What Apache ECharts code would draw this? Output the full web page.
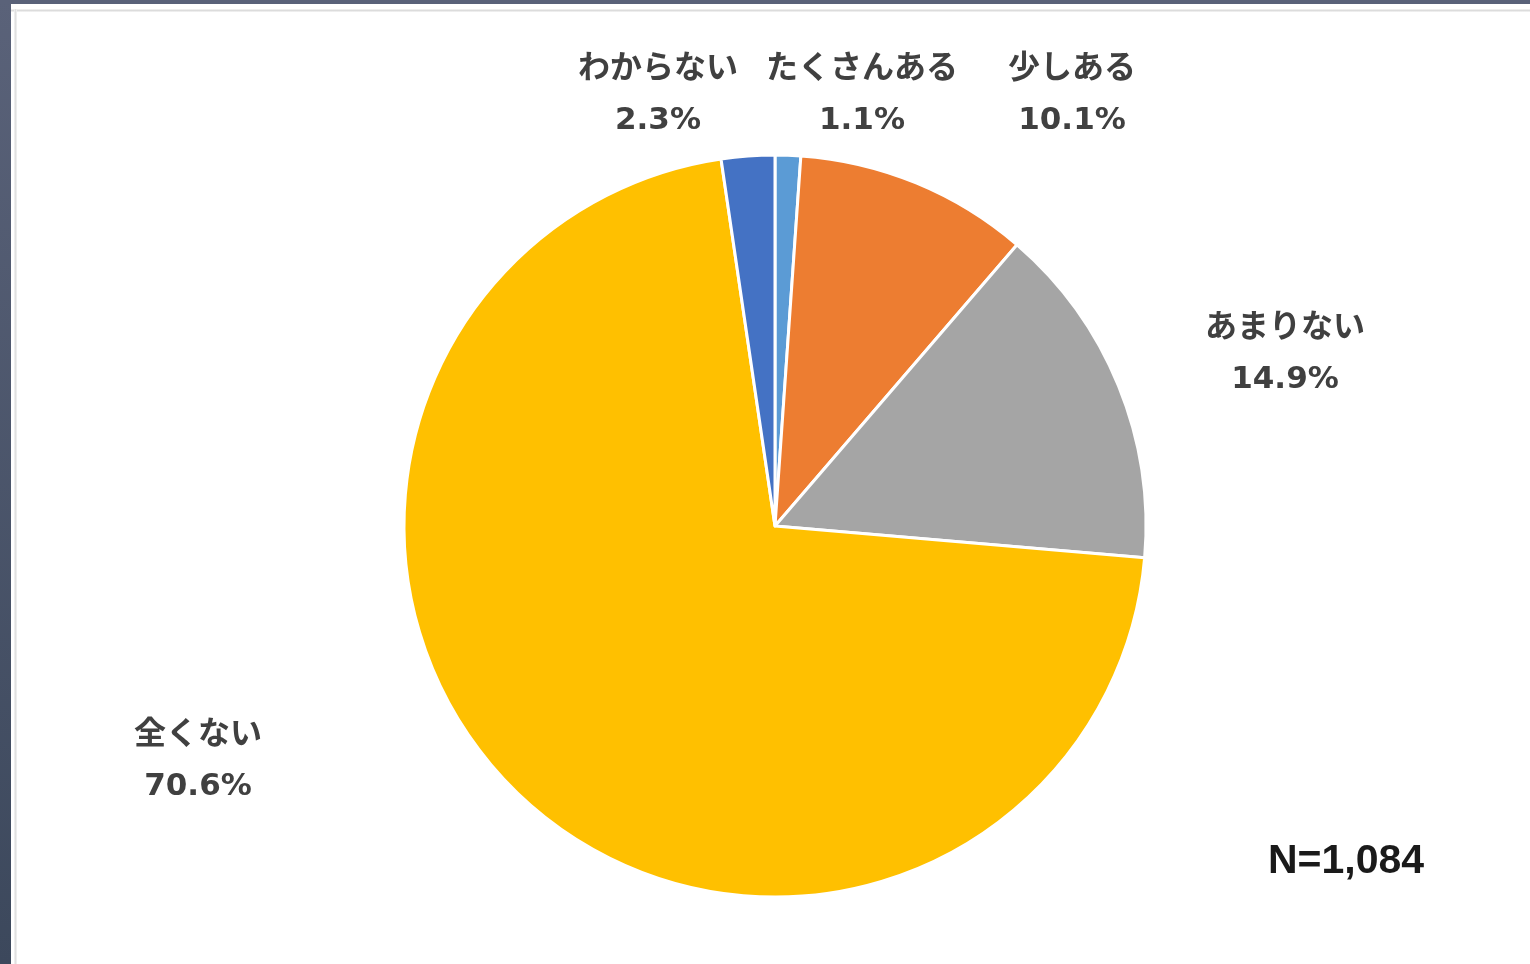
<!DOCTYPE html>
<html>
<head>
<meta charset="utf-8">
<script src="https://cdn.jsdelivr.net/npm/echarts@6/dist/echarts.min.js"></script>
<style>
  html, body { margin: 0; padding: 0; background: #ffffff; }
  #wrap { position: relative; width: 1530px; height: 964px; overflow: hidden; background: #ffffff; }
  #chart { position: absolute; left: 0; top: 0; width: 1530px; height: 964px; }
  #leftbar { position: absolute; left: 0; top: 0; width: 11px; height: 964px; background: linear-gradient(#5a6279, #3c485c); }
  #topbar { position: absolute; left: 0; top: 0; width: 1530px; height: 4px; background: #5a6279; }
  #hline { position: absolute; left: 11px; top: 9px; width: 1519px; height: 3px; background: linear-gradient(#f6f6f6, #dcdcdc, #f6f6f6); }
  #vline { position: absolute; left: 14px; top: 9px; width: 3px; height: 955px; background: linear-gradient(90deg, #f4f4f4, #e0e0e0, #f4f4f4); }
</style>
</head>
<body>
<div id="wrap">
  <div id="chart"></div>
  <div id="hline"></div>
  <div id="vline"></div>
  <div id="leftbar"></div>
  <div id="topbar"></div>
</div>
<script>
// Data (clockwise from 12 o'clock)
var categories = ['たくさんある', '少しある', 'あまりない', '全くない', 'わからない'];
var values = [1.1, 10.1, 14.9, 70.6, 2.3];
var sampleNote = 'N=1,084';

// Styling / layout (kept separate from data)
var colors = ['#5B9BD5', '#ED7D31', '#A5A5A5', '#FFC000', '#4472C4'];
var labelPos = [[862, 93], [1072, 93], [1285, 352], [198, 759], [658, 93]];

var chart = echarts.init(document.getElementById('chart'), null, { renderer: 'canvas' });

var seriesData = categories.map(function (c, i) {
  return { name: c, value: values[i], itemStyle: { color: colors[i] } };
});

chart.setOption({
  animation: false,
  backgroundColor: 'transparent',
  series: [{
    type: 'pie',
    center: [775, 526],
    radius: [0, 371],
    startAngle: 90,
    clockwise: true,
    data: seriesData,
    itemStyle: { borderColor: '#ffffff', borderWidth: 3 },
    label: {
      show: true,
      position: 'outside',
      formatter: function (p) { return '{n|' + p.name + '}\n{v|' + p.value.toFixed(1) + '%}'; },
      color: '#404040',
      align: 'center',
      rich: {
        n: {
          fontFamily: '"Noto Sans CJK JP", sans-serif',
          fontSize: 32,
          fontWeight: 'bold',
          color: '#404040',
          lineHeight: 55,
          align: 'center'
        },
        v: {
          fontFamily: '"DejaVu Sans", sans-serif',
          fontSize: 31,
          fontWeight: 'bold',
          color: '#404040',
          lineHeight: 55,
          align: 'center'
        }
      }
    },
    labelLine: { show: false },
    labelLayout: function (params) {
      var p = labelPos[params.dataIndex];
      return { x: p[0], y: p[1], align: 'center', verticalAlign: 'middle' };
    },
    emphasis: { disabled: true }
  }],
  graphic: [{
    type: 'text',
    left: 1268,
    top: 841,
    style: {
      text: sampleNote,
      font: 'bold 41px "Liberation Sans", Arial, sans-serif',
      fill: '#1a1a1a'
    }
  }]
});
</script>
</body>
</html>
